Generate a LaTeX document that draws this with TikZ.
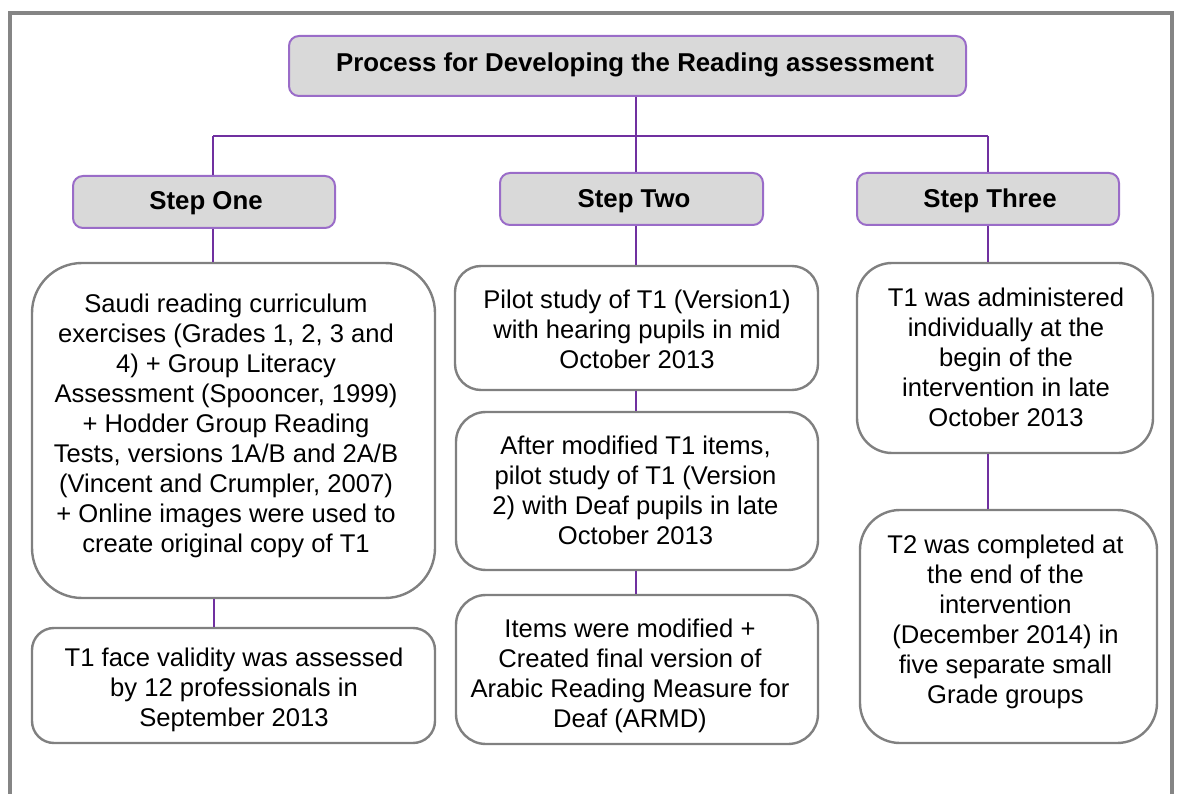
\documentclass[tikz,border=0pt]{standalone}
\usepackage{fontspec}
\setmainfont{Liberation Sans}
\definecolor{linkc}{HTML}{7030A0}
\definecolor{hdrborder}{HTML}{9A6CC8}
\definecolor{hdrfill}{HTML}{D9D9D9}
\definecolor{cardborder}{HTML}{808080}
\definecolor{framec}{HTML}{858585}
\begin{document}
\begin{tikzpicture}[x=1pt,y=-1pt,
  hdr/.style={draw=hdrborder, line width=2pt, fill=hdrfill, rounded corners=10pt, inner sep=0pt},
  card/.style={draw=cardborder, line width=2.4pt, fill=white, inner sep=0pt},
  lbl/.style={font=\bfseries\fontsize{25.8}{30}\selectfont, inner sep=0pt, yshift=-3pt},
  txt/.style={align=center, font=\fontsize{25.6}{30}\selectfont, inner sep=0pt, yshift=-3pt},
  link/.style={draw=linkc, line width=2.6pt},
  frame/.style={draw=framec, line width=4pt}]
\useasboundingbox (0,0) rectangle (1179,794);
\draw[frame] (10,800) -- (10,13) -- (1172,13) -- (1172,800);

% bus coordinates
\coordinate (b1) at (213,136);
\coordinate (b2) at (636,136);
\coordinate (b3) at (988,136);

\coordinate (x1) at (214,0);
\coordinate (x2) at (636,0);
\coordinate (x3) at (988,0);

% header boxes
\node[hdr, minimum width=677pt, minimum height=60pt] (title) at (627.5,66) {};
\node[lbl] (titlet) at (635,62) {Process for Developing the Reading assessment};

\node[hdr, minimum width=262pt, minimum height=52pt] (s1) at (204,202) {};
\node[lbl] (s1t) at (206,200) {Step One};
\node[hdr, minimum width=263pt, minimum height=52pt] (s2) at (631.5,199) {};
\node[lbl] (s2t) at (634,198) {Step Two};
\node[hdr, minimum width=262pt, minimum height=52pt] (s3) at (988,199) {};
\node[lbl] (s3t) at (990,198) {Step Three};

% step one column
\node[card, rounded corners=50pt, minimum width=403pt, minimum height=335pt] (a1) at (233.5,430.5) {};
\node[txt] (a1t) at (226,423) {Saudi reading curriculum\\exercises (Grades 1, 2, 3 and\\4) + Group Literacy\\Assessment (Spooncer, 1999)\\+ Hodder Group Reading\\Tests, versions 1A/B and 2A/B\\(Vincent and Crumpler, 2007)\\+ Online images were used to\\create original copy of T1};
\node[card, rounded corners=22pt, minimum width=403pt, minimum height=115pt] (a2) at (233.5,685.5) {};
\node[txt] (a2t) at (234,687) {T1 face validity was assessed\\by 12 professionals in\\September 2013};

% step two column
\node[card, rounded corners=26pt, minimum width=363pt, minimum height=124pt] (b1box) at (636.5,328) {};
\node[txt] (b1t) at (637,326) {Pilot study of T1 (Version1)\\with hearing pupils in mid\\October 2013};
\node[card, rounded corners=30pt, minimum width=362pt, minimum height=158pt] (b2box) at (637,491) {};
\node[txt] (b2t) at (635.5,487.5) {After modified T1 items,\\pilot study of T1 (Version\\2) with Deaf pupils in late\\October 2013};
\node[card, rounded corners=30pt, minimum width=362pt, minimum height=149pt] (b3box) at (637,669.5) {};
\node[txt] (b3t) at (630,672.5) {Items were modified +\\Created final version of\\Arabic Reading Measure for\\Deaf (ARMD)};

% step three column
\node[card, rounded corners=35pt, minimum width=296pt, minimum height=190pt] (c1box) at (1005,358) {};
\node[txt] (c1t) at (1006,354) {T1 was administered\\individually at the\\begin of the\\intervention in late\\October 2013};
\node[card, rounded corners=40pt, minimum width=297pt, minimum height=233pt] (c2box) at (1008.5,626.5) {};
\node[txt] (c2t) at (1005.5,619) {T2 was completed at\\the end of the\\intervention\\(December 2014) in\\five separate small\\Grade groups};

% connectors
\draw[link] (b2 |- title.south) -- (b2);
\draw[link] (b1) -- (b3);
\draw[link] (b1) -- (b1 |- s1.north);
\draw[link] (b2) -- (b2 |- s2.north);
\draw[link] (b3) -- (b3 |- s3.north);
\draw[link] (b1 |- s1.south) -- (b1 |- a1.north);
\draw[link] (x1 |- a1.south) -- (x1 |- a2.north);
\draw[link] (x2 |- s2.south) -- (x2 |- b1box.north);
\draw[link] (x2 |- b1box.south) -- (x2 |- b2box.north);
\draw[link] (x2 |- b2box.south) -- (x2 |- b3box.north);
\draw[link] (x3 |- s3.south) -- (x3 |- c1box.north);
\draw[link] (x3 |- c1box.south) -- (x3 |- c2box.north);
\end{tikzpicture}
\end{document}
